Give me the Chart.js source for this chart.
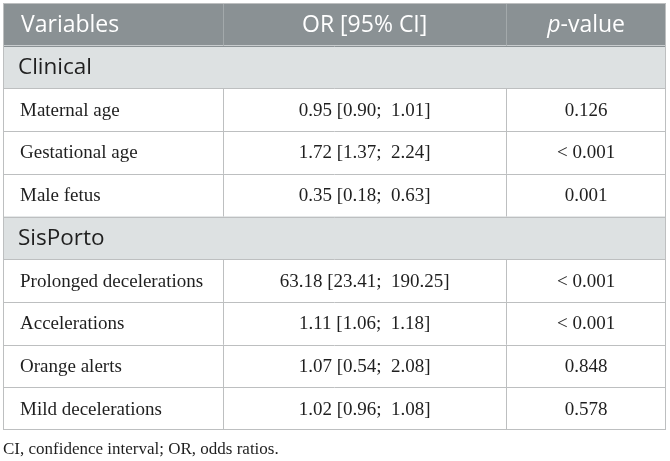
<!DOCTYPE html>
<html>
<head>
<meta charset="utf-8">
<script src="https://cdn.jsdelivr.net/npm/chart.js@4"></script>
<style>
  body { margin: 0; background: #fff; }
  #wrap { width: 670px; height: 461px; }
</style>
</head>
<body>
<div id="wrap"><canvas id="myChart"></canvas></div>
<script>
// table content
const headers = ['Variables', 'OR [95% CI]', 'p-value'];
const groups = ['Clinical', 'SisPorto'];
const variables = ['Maternal age', 'Gestational age', 'Male fetus', 'Prolonged decelerations', 'Accelerations', 'Orange alerts', 'Mild decelerations'];
const variableGroup = [0, 0, 0, 1, 1, 1, 1];
const orValues = [0.95, 1.72, 0.35, 63.18, 1.11, 1.07, 1.02];
const ciLower = [0.90, 1.37, 0.18, 23.41, 1.06, 0.54, 0.96];
const ciUpper = [1.01, 2.24, 0.63, 190.25, 1.18, 2.08, 1.08];
const pValues = ['0.126', '< 0.001', '0.001', '< 0.001', '< 0.001', '0.848', '0.578'];
const footnote = 'CI, confidence interval; OR, odds ratios.';

// column edges on the x scale (0..1)
const colEdges = [0, 0.332, 0.759, 1];

// header, section rows and body rows in order
const rows = [{kind: 'head', cells: headers}];
groups.forEach((g, gi) => {
  rows.push({kind: 'section', cells: [g]});
  variables.forEach((v, i) => {
    if (variableGroup[i] !== gi) return;
    rows.push({kind: 'body', cells: [
      v,
      orValues[i].toFixed(2) + ' [' + ciLower[i].toFixed(2) + ';  ' + ciUpper[i].toFixed(2) + ']',
      pValues[i]
    ]});
  });
});

const fillColor = {head: '#8a9194', section: '#dde1e2', body: 'rgba(0,0,0,0)'};
const headFont = '23px "Open Sans"';
const headItalic = 'italic 23px "Open Sans"';
const sectionFont = '22.5px "Open Sans"';
const bodyFont = '19px "Liberation Serif"';

const tablePlugin = {
  id: 'tableText',
  afterDatasetsDraw(chart) {
    const ctx = chart.ctx;
    const x = chart.scales.x, y = chart.scales.y;
    const area = chart.chartArea;
    const band = y.getPixelForValue(1) - y.getPixelForValue(0);
    const colX = colEdges.map(v => x.getPixelForValue(v));
    ctx.save();
    ctx.lineWidth = 1;

    rows.forEach((r, i) => {
      const cy = y.getPixelForValue(i);
      const top = cy - band / 2, bot = cy + band / 2;
      // horizontal line under each row
      if (i < rows.length - 1) {
        ctx.strokeStyle = r.kind === 'head' ? '#8a9194' : '#bdbfc0';
        ctx.beginPath();
        ctx.moveTo(area.left, Math.round(bot) + 0.5);
        ctx.lineTo(area.right, Math.round(bot) + 0.5);
        ctx.stroke();
      }
      // column dividers
      if (r.kind !== 'section') {
        ctx.strokeStyle = r.kind === 'head' ? '#a3a9ab' : '#bdbfc0';
        [colX[1], colX[2]].forEach(px => {
          ctx.beginPath();
          ctx.moveTo(Math.round(px) + 0.5, top);
          ctx.lineTo(Math.round(px) + 0.5, bot);
          ctx.stroke();
        });
      }

      ctx.textBaseline = 'middle';
      if (r.kind === 'head') {
        ctx.fillStyle = '#ffffff';
        ctx.font = headFont;
        ctx.textAlign = 'left';
        ctx.fillText(r.cells[0], colX[0] + 18, cy + 1);
        ctx.textAlign = 'center';
        ctx.fillText(r.cells[1], (colX[1] + colX[2]) / 2, cy + 1);
        // p-value with italic p
        const c3 = (colX[2] + colX[3]) / 2;
        ctx.textAlign = 'left';
        ctx.font = headItalic;
        const wp = ctx.measureText('p').width;
        ctx.font = headFont;
        const rest = r.cells[2].slice(1);
        const wr = ctx.measureText(rest).width;
        const sx = c3 - (wp + wr) / 2;
        ctx.font = headItalic;
        ctx.fillText('p', sx, cy + 1);
        ctx.font = headFont;
        ctx.fillText(rest, sx + wp, cy + 1);
      } else if (r.kind === 'section') {
        ctx.fillStyle = '#1f1f1f';
        ctx.font = sectionFont;
        ctx.textAlign = 'left';
        ctx.fillText(r.cells[0], colX[0] + 15, cy + 1);
      } else {
        ctx.fillStyle = '#1f1f1f';
        ctx.font = bodyFont;
        ctx.textAlign = 'left';
        ctx.fillText(r.cells[0], colX[0] + 17, cy + 1);
        ctx.textAlign = 'center';
        ctx.fillText(r.cells[1], (colX[1] + colX[2]) / 2, cy + 1);
        ctx.fillText(r.cells[2], (colX[2] + colX[3]) / 2, cy + 1);
      }
    });

    // outer border
    ctx.strokeStyle = '#bdbfc0';
    ctx.strokeRect(Math.round(area.left) + 0.5, Math.round(area.top) + 0.5,
      Math.round(area.right - area.left) - 1, Math.round(area.bottom - area.top) - 1);

    // footnote
    ctx.fillStyle = '#1f1f1f';
    ctx.font = '17px "Liberation Serif"';
    ctx.textAlign = 'left';
    ctx.textBaseline = 'alphabetic';
    ctx.fillText(footnote, area.left, area.bottom + 24);
    ctx.restore();
  }
};

const data = {
  labels: rows.map(r => r.cells[0]),
  datasets: [{
    label: 'fill',
    data: rows.map(r => r.kind === 'body' ? null : [0, 1]),
    backgroundColor: rows.map(r => fillColor[r.kind]),
    borderWidth: 0,
    barPercentage: 1,
    categoryPercentage: 1
  }]
};

const config = {
  type: 'bar',
  data: data,
  options: {
    indexAxis: 'y',
    responsive: true,
    maintainAspectRatio: false,
    animation: false,
    events: [],
    layout: {padding: {top: 3, left: 3, right: 4, bottom: 31}},
    plugins: {legend: {display: false}, tooltip: {enabled: false}},
    scales: {
      x: {type: 'linear', min: 0, max: 1, display: false},
      y: {type: 'category', offset: true, display: false}
    }
  },
  plugins: [tablePlugin]
};

const myChart = new Chart(document.getElementById('myChart'), config);
</script>
</body>
</html>
